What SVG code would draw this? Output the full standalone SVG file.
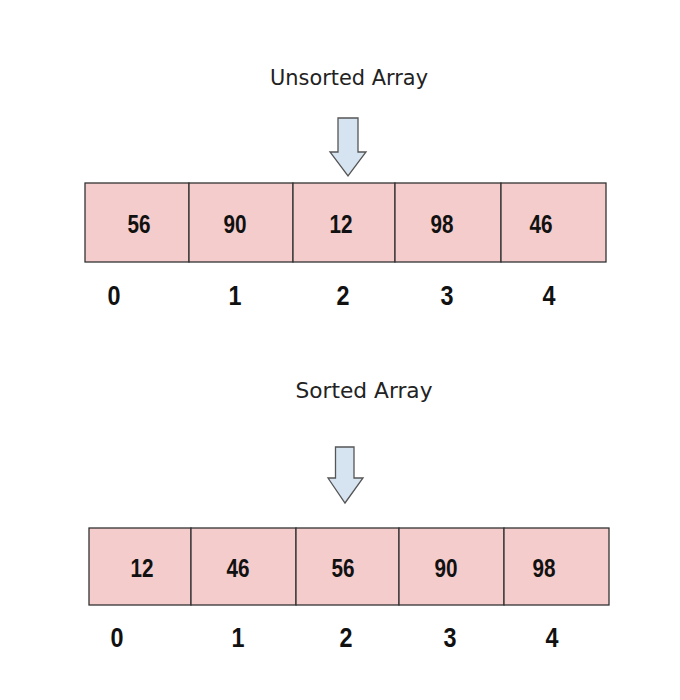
<svg xmlns="http://www.w3.org/2000/svg" width="680" height="700" viewBox="0 0 680 700">
<style>
.cell{fill:#f4cccc;stroke:#333333;stroke-width:1.3}
.val{font-family:"Liberation Sans",Arial,sans-serif;font-weight:bold;font-size:25px;fill:#111111;text-anchor:middle}
.idx{font-family:"Liberation Sans",Arial,sans-serif;font-weight:bold;font-size:27px;fill:#111111;text-anchor:middle}
.title{font-family:"DejaVu Sans","Liberation Sans",sans-serif;font-size:22px;fill:#222222;text-anchor:middle}
.arrow{fill:#d6e4f2;stroke:#555555;stroke-width:1.3;stroke-linejoin:miter}
</style>
<rect width="680" height="700" fill="#ffffff"/>
<g id="title-unsorted"><text class="title" x="349" y="85" textLength="158" lengthAdjust="spacingAndGlyphs">Unsorted Array</text></g>
<g id="connectors">
<path class="arrow" d="M338,118 H358 V152 H366 L348,176 L330,152 H338 Z"/>
<path class="arrow" d="M335.5,447 H354 V478 H363 L345,503 L328,478 H335.5 Z"/>
</g>
<g id="unsorted-array">
<rect class="cell" x="85" y="183" width="104" height="79"/>
<rect class="cell" x="189" y="183" width="104" height="79"/>
<rect class="cell" x="293" y="183" width="102" height="79"/>
<rect class="cell" x="395" y="183" width="106" height="79"/>
<rect class="cell" x="501" y="183" width="105" height="79"/>
<text class="val" x="139" y="233" textLength="23" lengthAdjust="spacingAndGlyphs">56</text>
<text class="val" x="235" y="233" textLength="23" lengthAdjust="spacingAndGlyphs">90</text>
<text class="val" x="341" y="233" textLength="23" lengthAdjust="spacingAndGlyphs">12</text>
<text class="val" x="442" y="233" textLength="23" lengthAdjust="spacingAndGlyphs">98</text>
<text class="val" x="541" y="233" textLength="23" lengthAdjust="spacingAndGlyphs">46</text>
<text class="idx" x="114" y="305" textLength="13" lengthAdjust="spacingAndGlyphs">0</text>
<text class="idx" x="235" y="305" textLength="13" lengthAdjust="spacingAndGlyphs">1</text>
<text class="idx" x="343" y="305" textLength="13" lengthAdjust="spacingAndGlyphs">2</text>
<text class="idx" x="447" y="305" textLength="13" lengthAdjust="spacingAndGlyphs">3</text>
<text class="idx" x="549" y="305" textLength="13" lengthAdjust="spacingAndGlyphs">4</text>
</g>
<g id="title-sorted"><text class="title" x="364" y="398" textLength="137" lengthAdjust="spacingAndGlyphs">Sorted Array</text></g>
<g id="sorted-array">
<rect class="cell" x="89" y="528" width="102" height="77"/>
<rect class="cell" x="191" y="528" width="105" height="77"/>
<rect class="cell" x="296" y="528" width="103" height="77"/>
<rect class="cell" x="399" y="528" width="105" height="77"/>
<rect class="cell" x="504" y="528" width="105" height="77"/>
<text class="val" x="142" y="577" textLength="23" lengthAdjust="spacingAndGlyphs">12</text>
<text class="val" x="238" y="577" textLength="23" lengthAdjust="spacingAndGlyphs">46</text>
<text class="val" x="343" y="577" textLength="23" lengthAdjust="spacingAndGlyphs">56</text>
<text class="val" x="446" y="577" textLength="23" lengthAdjust="spacingAndGlyphs">90</text>
<text class="val" x="544" y="577" textLength="23" lengthAdjust="spacingAndGlyphs">98</text>
<text class="idx" x="117" y="647" textLength="13" lengthAdjust="spacingAndGlyphs">0</text>
<text class="idx" x="238" y="647" textLength="13" lengthAdjust="spacingAndGlyphs">1</text>
<text class="idx" x="346" y="647" textLength="13" lengthAdjust="spacingAndGlyphs">2</text>
<text class="idx" x="450" y="647" textLength="13" lengthAdjust="spacingAndGlyphs">3</text>
<text class="idx" x="552" y="647" textLength="13" lengthAdjust="spacingAndGlyphs">4</text>
</g>
</svg>
